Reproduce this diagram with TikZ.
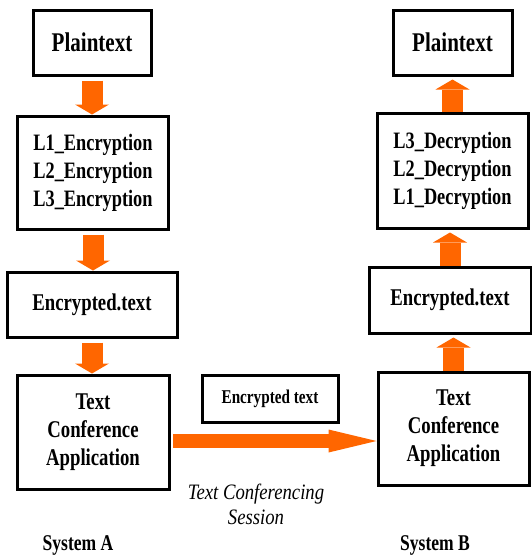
\documentclass[tikz,border=0pt]{standalone}
\usepackage{fontspec}
\setmainfont{Liberation Serif}[FakeStretch=0.78]
\newfontfamily\sessionfont{Liberation Serif}[FakeStretch=0.85]
\usetikzlibrary{arrows.meta}
\begin{document}
\begin{tikzpicture}[x=1pt,y=-1pt,font=\bfseries\fontsize{23.5}{28}\selectfont,
    stage/.style={draw,line width=3pt,align=center,inner sep=2pt},
    blockarrow/.style={draw=orangeflow,line width=21pt,
      -{Triangle[width=34pt,length=10pt,line width=0pt]}},
    linkarrow/.style={draw=orangeflow,line width=14pt,
      -{Triangle[width=23pt,length=48pt,line width=0pt]}}]
  \definecolor{orangeflow}{HTML}{FF6600}
  \useasboundingbox (0,0) rectangle (532,560);
  % system A
  \node[stage,minimum width=118pt,minimum height=65pt,font=\bfseries\fontsize{27}{30}\selectfont]
    (plainA) at (92,42.5) {Plaintext};
  \node[stage,minimum width=151pt,minimum height=113pt]
    (encA) at (93,172.5) {L1\_Encryption\\L2\_Encryption\\L3\_Encryption};
  \node[stage,minimum width=170pt,minimum height=65pt,font=\bfseries\fontsize{24}{28}\selectfont]
    (cipherA) at (92,304.5) {Encrypted.text};
  \node[stage,minimum width=152pt,minimum height=114pt,font=\bfseries\fontsize{24}{28}\selectfont]
    (appA) at (93,432) {Text\\Conference\\Application};
  % system B
  \node[stage,minimum width=119pt,minimum height=65pt,font=\bfseries\fontsize{27}{30}\selectfont]
    (plainB) at (452.5,42.5) {Plaintext};
  \node[stage,minimum width=151pt,minimum height=115pt]
    (decB) at (452.5,170.5) {L3\_Decryption\\L2\_Decryption\\L1\_Decryption};
  \node[stage,minimum width=162pt,minimum height=66pt,font=\bfseries\fontsize{24}{28}\selectfont]
    (cipherB) at (450,300) {Encrypted.text};
  \node[stage,minimum width=151pt,minimum height=113pt,font=\bfseries\fontsize{24}{28}\selectfont]
    (appB) at (453.5,428.5) {Text\\Conference\\Application};
  % session between the two
  \node[stage,minimum width=136pt,minimum height=47pt,font=\bfseries\fontsize{19.5}{22}\selectfont]
    (packet) at (270,398.5) {Encrypted text};
  \node[align=center,font=\sessionfont\itshape\fontsize{22}{25}\selectfont]
    (session) at (256,504) {Text Conferencing\\Session};
  \node[font=\bfseries\fontsize{22.5}{24}\selectfont] (sysA) at (78,545) {System A};
  \node[font=\bfseries\fontsize{22.5}{24}\selectfont] (sysB) at (435,545) {System B};

  \foreach \a/\b in {plainA/encA,encA/cipherA,cipherA/appA}
    \draw[blockarrow,shorten <=4pt] (\a.south) -- (\a.south |- \b.north);
  \foreach \a/\b in {appB/cipherB,cipherB/decB,decB/plainB}
    \draw[blockarrow,shorten >=3pt] (\a.north) -- (\a.north |- \b.south);
  \coordinate (linkstart) at (173,441);
  \draw[linkarrow] (linkstart) -- (linkstart -| appB.west);
\end{tikzpicture}
\end{document}
